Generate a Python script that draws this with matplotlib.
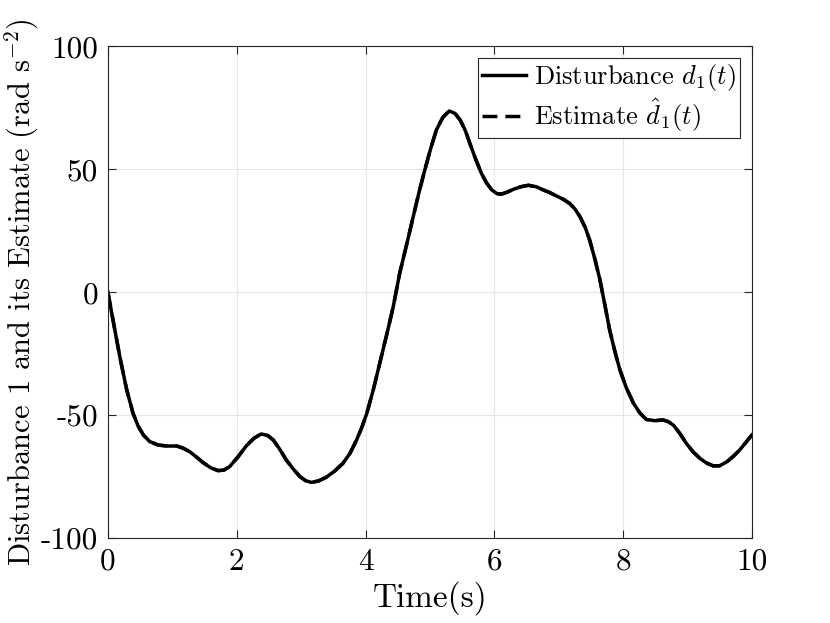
import numpy as np
import matplotlib.pyplot as plt

## Data (time in s, disturbance in rad s^-2)
t = [0.0, 0.08, 0.185, 0.29, 0.39, 0.47, 0.55, 0.65, 0.78, 0.92, 1.07, 1.17, 1.27, 1.38,
     1.48, 1.60, 1.71, 1.80, 1.89, 2.02, 2.15, 2.27, 2.38, 2.48, 2.57, 2.67, 2.77, 2.88,
     2.98, 3.07, 3.16, 3.27, 3.39, 3.52, 3.65, 3.76, 3.86, 3.94, 4.02, 4.12, 4.22, 4.33,
     4.43, 4.53, 4.64, 4.74, 4.83, 4.92, 5.01, 5.10, 5.20, 5.30, 5.39, 5.47, 5.55, 5.62,
     5.71, 5.80, 5.88, 5.96, 6.04, 6.11, 6.20, 6.29, 6.41, 6.53, 6.65, 6.76, 6.87, 6.97,
     7.07, 7.17, 7.25, 7.33, 7.41, 7.48, 7.56, 7.64, 7.72, 7.79, 7.87, 7.95, 8.05, 8.16,
     8.26, 8.36, 8.49, 8.62, 8.70, 8.78, 8.88, 8.98, 9.08, 9.19, 9.30, 9.40, 9.50, 9.61,
     9.71, 9.81, 9.90, 10.0]
d1 = [0.0, -11.5, -26.3, -39.5, -49.3, -54.5, -58.1, -60.8, -62.2, -62.6, -62.6, -63.5, -64.9, -67.2,
      -69.4, -71.5, -72.6, -72.4, -71.0, -67.0, -62.5, -59.4, -57.7, -58.3, -60.2, -64.0, -68.3, -72.0,
      -75.0, -76.7, -77.4, -76.8, -75.3, -72.8, -69.6, -65.5, -60.2, -55.2, -49.3, -39.8, -29.0, -17.2,
      -6.0, 7.6, 19.5, 30.6, 40.5, 49.6, 58.2, 65.9, 71.0, 73.6, 72.6, 69.9, 65.6, 60.4,
      54.0, 48.2, 44.3, 41.5, 40.0, 39.8, 40.6, 41.7, 42.8, 43.4, 42.8, 41.5, 40.3, 39.0,
      37.7, 36.0, 33.8, 30.6, 26.3, 21.1, 13.5, 4.9, -5.8, -15.4, -24.0, -31.7, -39.0, -45.2,
      -49.2, -51.8, -52.3, -52.0, -52.7, -54.1, -57.5, -61.5, -64.8, -67.6, -69.6, -70.7, -70.6, -69.0,
      -66.8, -64.2, -61.3, -58.1]
d1_hat = d1  # estimate overlaps the true disturbance

xticks = [0, 2, 4, 6, 8, 10]
yticks = [-100, -50, 0, 50, 100]

plt.rcParams['font.family'] = 'cmr10'
plt.rcParams['mathtext.fontset'] = 'cm'
plt.rcParams['axes.unicode_minus'] = False
plt.rcParams['axes.formatter.use_mathtext'] = False

fig = plt.figure(figsize=(8.3, 6.23), dpi=100)
ax = fig.add_axes([0.130, 0.1364, 0.776, 0.7897])

line1, = ax.plot(t, d1, color='k', lw=2.5, ls='-')
line2, = ax.plot(t, d1_hat, color='k', lw=2.5, ls=(0, (4.3, 2.3)))

ax.set_xlim(0, 10)
ax.set_ylim(-100, 100)
ax.set_xticks(xticks)
ax.set_yticks(yticks)
ax.set_xticklabels([str(v) for v in xticks])
ax.set_yticklabels([str(v) for v in yticks])
ax.tick_params(direction='in', top=True, right=True, labelsize=22.5, length=6,
               color='0.15', pad=7)
ax.grid(True, color='0.9', lw=0.8)
for s in ax.spines.values():
    s.set_color('0.15')
    s.set_linewidth(0.8)

ax.set_xlabel('Time(s)', fontsize=24, labelpad=4)
ax.set_ylabel(r'Disturbance 1 and its Estimate (rad s$^{-2}$)', fontsize=22, labelpad=0)

leg = ax.legend((line1, line2), (r'Disturbance $d_1(t)$', r'Estimate $\hat{d}_1(t)$'),
                loc='upper right', fontsize=19, fancybox=False, framealpha=1,
                edgecolor='0.15', handlelength=1.7, handletextpad=0.3,
                borderpad=0.15, labelspacing=0.15, borderaxespad=0.45)
leg.get_frame().set_linewidth(0.8)

fig.savefig('out.png', dpi=100)
